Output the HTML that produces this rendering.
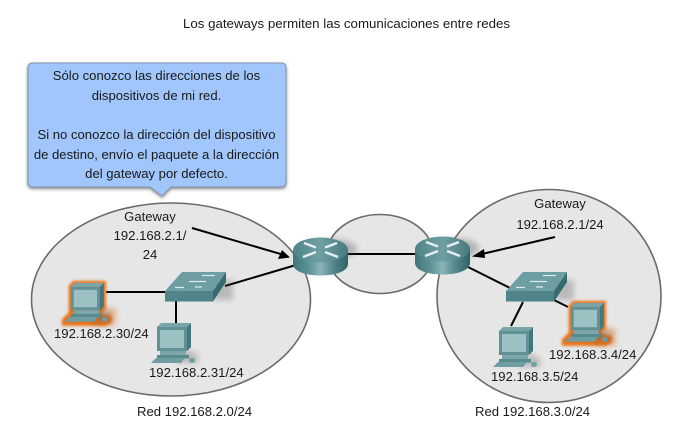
<!DOCTYPE html>
<html><head><meta charset="utf-8"><style>
html,body{margin:0;padding:0;background:#fff;width:689px;height:431px;overflow:hidden}
text{font-family:"Liberation Sans",Arial,sans-serif;font-size:13.100px;fill:#1a1a1a}
</style></head><body>
<svg width="689" height="431" viewBox="0 0 689 431" xmlns="http://www.w3.org/2000/svg" style="display:block">
<defs>
<linearGradient id="rs" x1="0" x2="1" y1="0" y2="0">
<stop offset="0" stop-color="#3f7478"/><stop offset=".3" stop-color="#5f9599"/><stop offset=".5" stop-color="#8ab5b7"/><stop offset=".75" stop-color="#4f8488"/><stop offset="1" stop-color="#2f6367"/>
</linearGradient>
<linearGradient id="rt" x1="0" x2="1" y1="0" y2="0">
<stop offset="0" stop-color="#4f8488"/><stop offset=".5" stop-color="#6f9fa2"/><stop offset="1" stop-color="#46797d"/>
</linearGradient>
<filter id="blur3" x="-40%" y="-40%" width="180%" height="180%"><feGaussianBlur stdDeviation="3"/></filter>
<filter id="blur2" x="-40%" y="-40%" width="180%" height="180%"><feGaussianBlur stdDeviation="1.300"/></filter>
<filter id="cs" x="-5%" y="-5%" width="110%" height="115%"><feDropShadow dx="0" dy="1.500" stdDeviation="1.500" flood-color="#333" flood-opacity=".6"/></filter>
<g id="router">
<ellipse cx="40" cy="12" rx="24" ry="10" fill="#555" opacity=".35" filter="url(#blur3)"/>
<path d="M0 13V27C0 34 12 38.500 27.500 38.500S55 34 55 27V13Z" fill="url(#rs)"/>
<ellipse cx="27.500" cy="13" rx="27.500" ry="12.500" fill="url(#rt)"/>
<path d="M11 6L23 10.500M32 15L45 20M44 6L32 10.500M23 15L10 20" stroke="#e4f0f0" stroke-width="2.400" fill="none"/>
</g>
<g id="switch">
<path d="M48 8H68V28H48Z" fill="#555" opacity=".3" filter="url(#blur3)"/>
<path d="M0 19L17 0H61L48 19Z" fill="#6d9ea1"/>
<path d="M0 19H48V29.500H0Z" fill="#4f8488"/>
<path d="M48 19L61 0V10L48 29.500Z" fill="#356a6e"/>
<path d="M10 15.500H19M24 9.500H41M37 3.500H50M30 15H37" stroke="#dcebeb" stroke-width="1.300" fill="none"/>
</g>
<g id="pc">
<path d="M33 27C44 27 50 33 47 40H24Z" fill="#555" opacity=".3" filter="url(#blur3)"/>
<path d="M6 4L10 0H40L36 4Z" fill="#7aa5a7"/>
<path d="M36 4L40 0V24L36 28Z" fill="#44777b"/>
<rect x="6" y="4" width="30" height="24" fill="#5f9195"/>
<rect x="9" y="7" width="24" height="18" fill="#9cc1c2"/>
<rect x="9" y="28" width="26" height="4.500" fill="#7ca6a8"/>
<rect x="6" y="32" width="32" height="3.500" fill="#588b8e"/>
<path d="M5 35H34L30 40H0Z" fill="#6e9ea1"/>
<ellipse cx="41" cy="37.500" rx="3" ry="2.500" fill="#6e9ea1"/>
</g>
<g id="glow">
<path d="M5 3L9 -1H41V26L35 30L39 34L47 35V40L42 43H-2V38L5 31Z" fill="#e8741c" stroke="#e8741c" stroke-width="2.500" filter="url(#blur2)"/>
<path d="M30 26H52V44H30Z" fill="#d9701c" opacity=".45" filter="url(#blur3)"/>
</g>
</defs>

<text x="346.500" y="28" text-anchor="middle" textLength="327" lengthAdjust="spacingAndGlyphs">Los gateways permiten las comunicaciones entre redes</text>

<ellipse cx="171" cy="299.500" rx="139.500" ry="96.500" fill="#e6e6e6" stroke="#6a6a6a" stroke-width="1.600"/>
<ellipse cx="549" cy="296" rx="112" ry="106.500" fill="#e6e6e6" stroke="#6a6a6a" stroke-width="1.600"/>
<ellipse cx="380" cy="254" rx="53" ry="39.500" fill="#e6e6e6" stroke="#6a6a6a" stroke-width="1.600"/>

<path d="M28 68Q28 63 33 63H281Q286 63 286 68V182Q286 187 281 187H171L162 196L150 187H33Q28 187 28 182Z" fill="#a0c6fb" stroke="#7d94ad" stroke-width="1" filter="url(#cs)"/>
<g text-anchor="middle">
<text x="156.500" y="80">Sólo conozco las direcciones de los</text>
<text x="156.500" y="100">dispositivos de mi red.</text>
<text x="156.500" y="139">Si no conozco la dirección del dispositivo</text>
<text x="156.500" y="159">de destino, envío el paquete a la dirección</text>
<text x="156.500" y="178">del gateway por defecto.</text>
</g>

<g stroke="#000" stroke-width="2" fill="none">
<path d="M340 254H425"/>
<path d="M106 292H168"/>
<path d="M176 300V324"/>
<path d="M225 286L296 265"/>
<path d="M192 228L284 255"/>
<path d="M468 267L510 288"/>
<path d="M523 302L511 326"/>
<path d="M552 299L568 307"/>
<path d="M555 237L482 254"/>
</g>
<path d="M290 257.500L278 259L282 250Z" fill="#000"/>
<path d="M472 256.500L484 249L485 258Z" fill="#000"/>

<use href="#router" x="293" y="237"/>
<use href="#router" x="415" y="236"/>
<use href="#switch" x="165" y="272"/>
<use href="#switch" x="506" y="272"/>

<use href="#glow" transform="translate(65 283) scale(.97)"/>
<use href="#pc" transform="translate(65 283) scale(.97)"/>
<use href="#pc" x="151" y="323"/>
<use href="#glow" transform="translate(565 303) scale(.97)"/>
<use href="#pc" transform="translate(565 303) scale(.97)"/>
<use href="#pc" x="493" y="327"/>

<g text-anchor="middle">
<text x="150" y="221">Gateway</text>
<text x="150" y="240">192.168.2.1/</text>
<text x="150" y="259">24</text>
<text x="560" y="208">Gateway</text>
<text x="560" y="229">192.168.2.1/24</text>
</g>
<text x="54" y="338">192.168.2.30/24</text>
<text x="149" y="377">192.168.2.31/24</text>
<text x="549" y="359">192.168.3.4/24</text>
<text x="491" y="381">192.168.3.5/24</text>
<text x="137" y="416">Red 192.168.2.0/24</text>
<text x="475" y="416">Red 192.168.3.0/24</text>
</svg>
</body></html>
